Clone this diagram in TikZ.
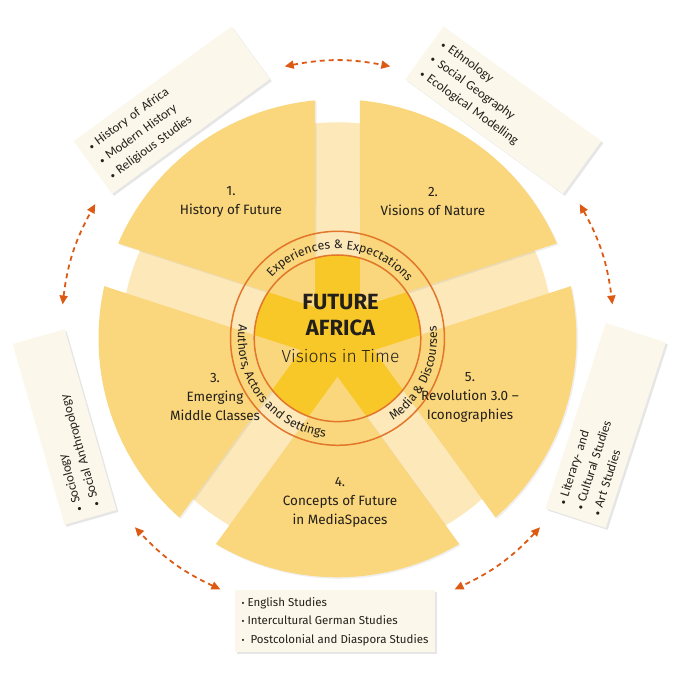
\documentclass[tikz,border=0pt]{standalone}
\usepackage{fontspec}
\setmainfont{Fira Sans}
\newfontfamily\boxfont{Carlito}
\newfontfamily\lightfont{Fira Sans Light}
\usetikzlibrary{arrows.meta,decorations.text,shadows}

\definecolor{sectoryellow}{HTML}{FAD77D}
\definecolor{paleyellow}{HTML}{FCE8B9}
\definecolor{staryellow}{HTML}{F8C828}
\definecolor{boxcream}{HTML}{FBF7EA}
\definecolor{ringorange}{HTML}{E2762A}
\definecolor{arroworange}{HTML}{DC5A14}
\definecolor{labeltext}{HTML}{231F1A}

\newcommand\bul{{\fontsize{9}{9}\selectfont\textbullet}\ }

\tikzset{
  sector/.style={fill=sectoryellow,
    drop shadow={opacity=0.12,shadow xshift=1.5pt,shadow yshift=-1.5pt}},
  fieldbox/.style={fill=boxcream,minimum width=195pt,minimum height=62pt,
    align=left,text=labeltext,
    drop shadow={opacity=0.2,shadow xshift=2pt,shadow yshift=-2pt}},
  tiltbox/.style={fieldbox,text width=177pt,inner sep=9pt,
    font=\boxfont\fontsize{13}{18}\selectfont},
  sectorlabel/.style={align=center,text=labeltext,
    font=\fontsize{13.5}{19}\selectfont},
  ring/.style={draw=ringorange,line width=1.5pt},
  linkarrow/.style={draw=arroworange,line width=1.8pt,dash pattern=on 5pt off 4pt,
    {Triangle[length=9pt,width=8pt]}-{Triangle[length=9pt,width=8pt]}},
  ringtext/.style={decorate,decoration={text along path,text align=center,
    text color=labeltext}}
}

\begin{document}
\begin{tikzpicture}[x=1pt,y=1pt]
  \useasboundingbox (-337.5,-341.7) rectangle (342.5,338.3);

  % disc and sectors
  \fill[paleyellow] (0,0) circle (216);
  \foreach \a in {126,54,198,270,342}
    \fill[sector] (\a:38.3) -- ({\a-30.6}:239)
      arc[start angle={\a-30.6},end angle={\a+30.6},radius=239] -- cycle;

  % centre star
  \fill[sectoryellow] (0,0) circle (83.3);
  \begin{scope}
    \clip (0,0) circle (83.3);
    \foreach \g in {90,162,234,306,18}
      \fill[staryellow,rotate=\g] (0,-22.5) rectangle (90,22.5);
  \end{scope}
  \draw[ring] (0,0) circle (83.3) (0,0) circle (107);

  % ring texts
  \path[ringtext,decoration={text={|\fontsize{12.3}{13}\selectfont|Experiences {\&} Expectations}}]
    (150:89.5) arc[start angle=150,end angle=26,radius=89.5];
  \path[ringtext,decoration={text={|\fontsize{12.3}{13}\selectfont|Authors, Actors and Settings}}]
    (160:99.5) arc[start angle=160,end angle=275,radius=99.5];
  \path[ringtext,decoration={text={|\fontsize{12.3}{13}\selectfont|Media {\&} Discourses}}]
    (290:99.5) arc[start angle=290,end angle=381,radius=99.5];

  % centre title
  \node[text=labeltext,align=center,font=\bfseries\fontsize{22}{25.5}\selectfont]
    (centretitle) at (3,23) {FUTURE\\AFRICA};
  \node[text=labeltext,font=\lightfont\fontsize{17.5}{20}\selectfont]
    (centresub) at (3,-17.7) {Visions in Time};

  % sector labels
  \begin{scope}[every node/.style={sectorlabel}]
    \node (history) at (-106.5,136.8) {1.\\History of Future};
    \node (nature) at (95.5,136.8) {2.\\Visions of Nature};
    \node (middle) at (-122.5,-58.7) {3.\\Emerging\\Middle Classes};
    \node (media) at (2.5,-163.7) {4.\\Concepts of Future\\in MediaSpaces};
    \node (revolution) at (132.5,-58.7) {5.\\Revolution 3.0 --\\Iconographies};
  \end{scope}

  % disciplines
  \begin{scope}[every node/.style={tiltbox}]
    \node[rotate=36] (historybox) at (126:282)
      {\bul History of Africa\\\bul Modern History\\\bul Religious Studies};
    \node[rotate=-36] (naturebox) at (54:282)
      {\bul Ethnology\\\bul Social Geography\\\bul Ecological Modelling};
    \node[rotate=106,minimum width=188pt,minimum height=54pt,text width=170pt]
      (middlebox) at (198:287)
      {\bul Sociology\\\bul Social Anthropology};
    \node[rotate=72] (revolutionbox) at (342:282)
      {\bul Literary- and\\\bul Cultural Studies\\\bul Art Studies};
  \end{scope}
  \node[fieldbox,font=\fontsize{11.5}{18.5}\selectfont,inner xsep=4pt,
    minimum width=200pt] (mediabox) at (269.5:283)
    {\bul English Studies\\\bul Intercultural German Studies\\\bul\ Postcolonial and Diaspora Studies};

  % links between boxes
  \foreach \g [count=\i] in {90,162,234,306,18} {
    \coordinate (link\i a) at ({\g+11}:277);
    \coordinate (link\i b) at ({\g-11}:277);
    \draw[linkarrow] (link\i a) to[bend left=11] (link\i b);
  }
\end{tikzpicture}
\end{document}
